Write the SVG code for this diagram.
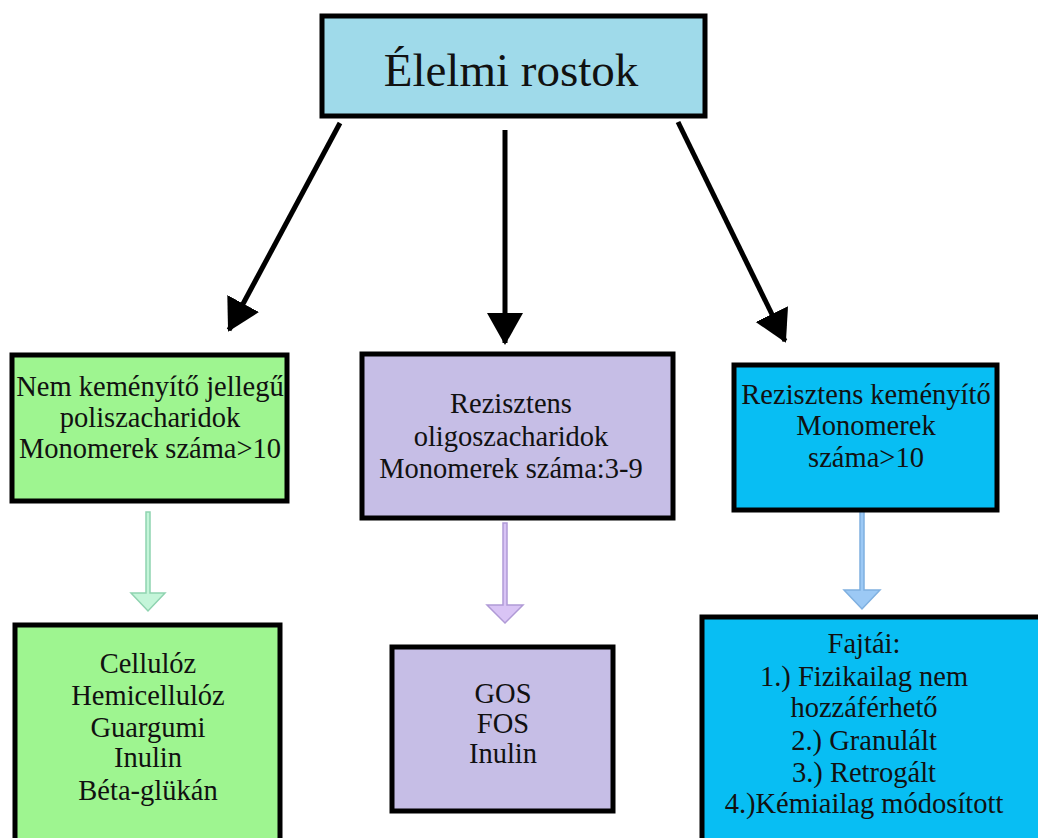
<svg xmlns="http://www.w3.org/2000/svg" width="1038" height="838" viewBox="0 0 1038 838">
<style>
.box{stroke:#000;stroke-width:5}
.t{font-family:"Liberation Serif","Times New Roman",serif;fill:#111;text-anchor:middle}
.big{font-size:47px}
.m{font-size:28.5px}
.blk{stroke:#000;stroke-width:5;fill:none}
</style>
<defs>
<marker id="ah" markerUnits="userSpaceOnUse" markerWidth="40" markerHeight="40" refX="30" refY="18" orient="auto">
<path d="M0,0 L32,18 L0,36 Z" fill="#000"/>
</marker>
</defs>
<rect width="1038" height="838" fill="#fff"/>
<g id="connectors">
<line class="blk" x1="340" y1="123" x2="229" y2="330" marker-end="url(#ah)"/>
<line class="blk" x1="505" y1="130" x2="505" y2="343" marker-end="url(#ah)"/>
<line class="blk" x1="678" y1="122" x2="785" y2="341" marker-end="url(#ah)"/>
<g id="arrow-green">
<path d="M146,512 L150,512 L150,593 L165,593 L148,611 L131,593 L146,593 Z" fill="#c4f5d9" stroke="#8fd3b0" stroke-width="1.5"/>
</g>
<g id="arrow-purple">
<path d="M503,523 L507,523 L507,605 L523,605 L505,623 L487,605 L503,605 Z" fill="#d9c4f5" stroke="#b09ad6" stroke-width="1.5"/>
</g>
<g id="arrow-blue">
<path d="M860,511 L864,511 L864,590 L880,590 L862,609 L844,590 L860,590 Z" fill="#9cc9f5" stroke="#7fb0e0" stroke-width="1.5"/>
</g>
</g>
<g id="root">
<rect class="box" x="322" y="16" width="383" height="100" fill="#9fdaea"/>
<text class="t big" x="511" y="86">Élelmi rostok</text>
</g>
<g id="nsp">
<rect class="box" x="12" y="355" width="275" height="146" fill="#9ef590"/>
<text class="t m"><tspan x="150" y="396">Nem keményítő jellegű</tspan><tspan x="150" y="427">poliszacharidok</tspan><tspan x="150" y="458">Monomerek száma&gt;10</tspan></text>
</g>
<g id="ro">
<rect class="box" x="362" y="354" width="311" height="164" fill="#c6bee6"/>
<text class="t m"><tspan x="511" y="413">Rezisztens</tspan><tspan x="511" y="446">oligoszacharidok</tspan><tspan x="511" y="478">Monomerek száma:3-9</tspan></text>
</g>
<g id="rs">
<rect class="box" x="734" y="365" width="263" height="145" fill="#08bef3"/>
<text class="t m"><tspan x="866" y="404">Rezisztens keményítő</tspan><tspan x="866" y="435">Monomerek</tspan><tspan x="866" y="467">száma&gt;10</tspan></text>
</g>
<g id="nsp-list">
<rect class="box" x="15" y="625" width="265" height="230" fill="#9ef590"/>
<text class="t m"><tspan x="148" y="673">Cellulóz</tspan><tspan x="148" y="705">Hemicellulóz</tspan><tspan x="148" y="737">Guargumi</tspan><tspan x="148" y="767">Inulin</tspan><tspan x="148" y="800">Béta-glükán</tspan></text>
</g>
<g id="ro-list">
<rect class="box" x="392" y="647" width="221" height="164" fill="#c6bee6"/>
<text class="t m"><tspan x="503" y="703">GOS</tspan><tspan x="503" y="733">FOS</tspan><tspan x="503" y="763">Inulin</tspan></text>
</g>
<g id="rs-list">
<rect class="box" x="702" y="617" width="340" height="240" fill="#08bef3"/>
<text class="t m"><tspan x="864" y="653">Fajtái:</tspan><tspan x="864" y="686">1.) Fizikailag nem</tspan><tspan x="864" y="717">hozzáférhető</tspan><tspan x="864" y="750">2.) Granulált</tspan><tspan x="864" y="782">3.) Retrogált</tspan><tspan x="864" y="813">4.)Kémiailag módosított</tspan></text>
</g>
</svg>
